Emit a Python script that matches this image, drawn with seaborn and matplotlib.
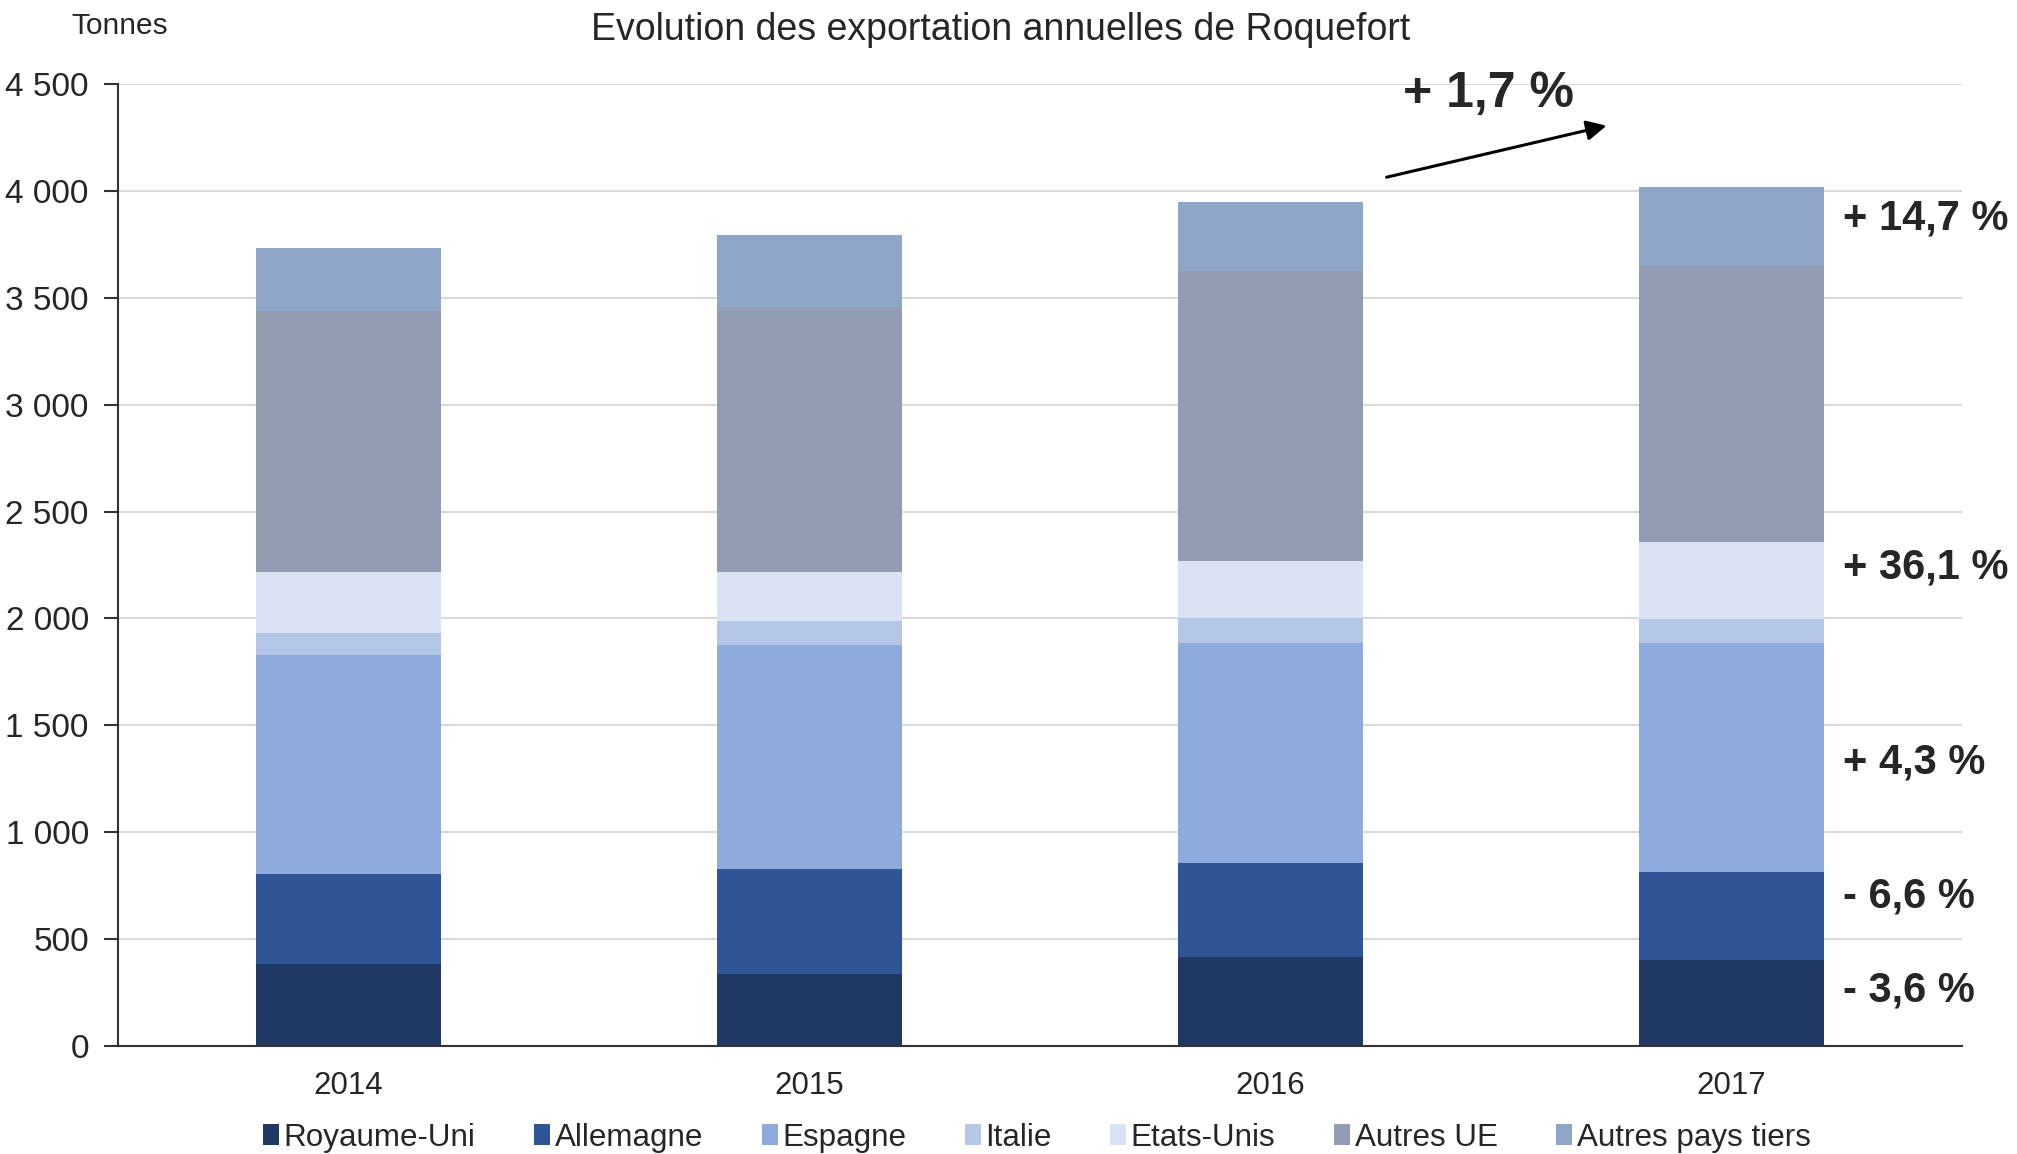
import matplotlib
matplotlib.use("Agg")
import matplotlib.pyplot as plt
from matplotlib.patches import Patch
from matplotlib.ticker import FuncFormatter, FixedLocator
import numpy as np
import pandas as pd
import seaborn as sns

# values (tonnes), stacked bottom -> top
years = ["2014", "2015", "2016", "2017"]
royaume_uni = [385, 337, 416, 404]
allemagne = [419, 493, 441, 411]
espagne = [1026, 1048, 1029, 1072]
italie = [104, 111, 117, 111]
etats_unis = [281, 226, 268, 358]
autres_ue = [1223, 1244, 1355, 1292]
autres_tiers = [294, 334, 321, 369]

series_names = ["Royaume-Uni", "Allemagne", "Espagne", "Italie", "Etats-Unis",
                "Autres UE", "Autres pays tiers"]
series_colors = ["#203864", "#2F5597", "#8FAADC", "#B4C7E7", "#DAE3F3",
                 "#929CB3", "#8FA6C9"]

# evolution 2017/2016 labels
evo_labels = ["- 3,6 %", "- 6,6 %", "+ 4,3 %", "+ 36,1 %", "+ 14,7 %"]
evo_y = [259, 698, 1324, 2238, 3869]
total_label = "+ 1,7 %"

sns.set_style("white")
plt.rcParams["font.family"] = ["Liberation Sans", "DejaVu Sans"]

df = pd.DataFrame({"year": years, "Royaume-Uni": royaume_uni, "Allemagne": allemagne,
                   "Espagne": espagne, "Italie": italie, "Etats-Unis": etats_unis,
                   "Autres UE": autres_ue, "Autres pays tiers": autres_tiers})
cum = df[series_names].cumsum(axis=1)

fig = plt.figure(figsize=(20.17, 11.54), dpi=100)
ax = fig.add_axes([0.0585, 0.0936, 0.9142, 0.8336])

# draw the cumulative totals from the top down so each layer covers the next
for name, color in reversed(list(zip(series_names, series_colors))):
    sns.barplot(x=df["year"], y=cum[name], color=color, width=0.4,
                saturation=1, linewidth=0, ax=ax, zorder=2)

ax.set_ylim(0, 4500)
ax.set_xlim(-0.5, 3.5)
ax.set_yticks(np.arange(0, 4501, 500))
ax.yaxis.set_major_formatter(FuncFormatter(lambda v, p: f"{int(v):,}".replace(",", " ")))
ax.grid(axis="y", color="#D9D9D9", lw=1.5, zorder=0)
ax.set_axisbelow(True)
ax.set_xlabel("")
ax.set_ylabel("")

# tick marks between categories, labels centred under bars
ax.xaxis.set_major_locator(FixedLocator([-0.5, 0.5, 1.5, 2.5, 3.5]))
ax.xaxis.set_minor_locator(FixedLocator([0, 1, 2, 3]))
ax.set_xticklabels([])
ax.set_xticklabels(years, minor=True)
ax.tick_params(axis="x", which="major", length=10, width=1.5, color="#333333")
ax.tick_params(axis="x", which="minor", length=0, pad=18, labelsize=22.5)
ax.tick_params(axis="y", length=10, width=1.5, color="#333333", pad=11, labelsize=24,
               left=True)

for side in ["top", "right"]:
    ax.spines[side].set_visible(False)
for side in ["left", "bottom"]:
    ax.spines[side].set_color("#333333")
    ax.spines[side].set_linewidth(1.5)

for lab, yv in zip(evo_labels, evo_y):
    ax.text(3.243, yv, lab, ha="left", va="center", fontsize=30,
            fontweight="bold", clip_on=False)

ax.annotate("", xy=(2.735, 4308), xytext=(2.246, 4061),
            arrowprops=dict(arrowstyle="-|>", color="black", lw=2.2, mutation_scale=30),
            annotation_clip=False)
ax.text(2.472, 4452, total_label, ha="center", va="center", fontsize=36,
        fontweight="bold", clip_on=False)

fig.text(1001 / 2017, 1 - 30 / 1154, "Evolution des exportation annuelles de Roquefort",
         ha="center", va="center", fontsize=27)
fig.text(120 / 2017, 1 - 26 / 1154, "Tonnes", ha="center", va="center", fontsize=21.5)

handles = [Patch(facecolor=c, edgecolor="none") for c in series_colors]
fig.legend(handles, series_names, loc="center", bbox_to_anchor=(1037 / 2017, 1 - 1138 / 1154),
           ncol=7, frameon=False, fontsize=22.6, handlelength=0.5, handleheight=0.65,
           handletextpad=0.15, columnspacing=1.87, borderpad=0)

fig.savefig("out.png", dpi=100)
